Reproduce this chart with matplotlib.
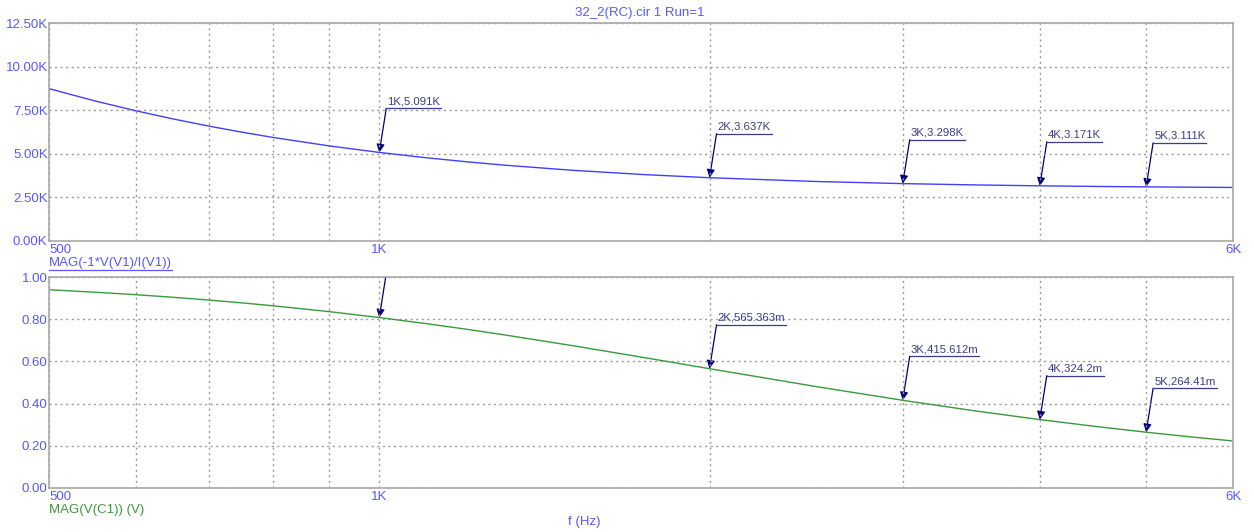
import matplotlib.pyplot as plt
from matplotlib.lines import Line2D
from matplotlib.patches import FancyArrowPatch

plt.rcParams['font.family'] = ['Liberation Sans', 'DejaVu Sans']

# sweep points (Hz)
freq = [500, 550, 600, 650, 700, 750, 800, 900, 1000, 1100, 1200, 1300,
        1500, 1750, 2000, 2500, 3000, 3500, 4000, 4500, 5000, 5500, 6000]
# |Z| = MAG(-1*V(V1)/I(V1)), kOhm
z_mag = [8.756, 8.057, 7.483, 7.003, 6.598, 6.251, 5.952, 5.467, 5.091,
         4.794, 4.555, 4.360, 4.064, 3.811, 3.637, 3.421, 3.298, 3.222,
         3.171, 3.136, 3.111, 3.092, 3.077]
# MAG(V(C1)), V
vc_mag = [0.9395, 0.9281, 0.9161, 0.9036, 0.8906, 0.8773, 0.8637, 0.8359,
          0.8080, 0.7800, 0.7526, 0.7257, 0.6747, 0.6167, 0.5654, 0.4809,
          0.4156, 0.3647, 0.3242, 0.2915, 0.2644, 0.2419, 0.2228]

# cursor tags
tag_f = [1000, 2000, 3000, 4000, 5000]
tag_z = [5.091, 3.637, 3.298, 3.171, 3.111]
tag_z_txt = ['1K,5.091K', '2K,3.637K', '3K,3.298K', '4K,3.171K', '5K,3.111K']
tag_vc = [0.808012, 0.565363, 0.415612, 0.3242, 0.26441]
tag_vc_txt = ['1K,808.012m', '2K,565.363m', '3K,415.612m', '4K,324.2m', '5K,264.41m']

grid_f = [500, 600, 700, 800, 900, 1000, 2000, 3000, 4000, 5000, 6000]
grid_lbl = {500: '500', 1000: '1K', 6000: '6K'}

W, H = 1254, 532
fig = plt.figure(figsize=(W / 100, H / 100), dpi=100)

def px_box(x0, y0, x1, y1):
    return [x0 / W, 1 - y1 / H, (x1 - x0) / W, (y1 - y0) / H]

ax1 = fig.add_axes(px_box(49, 23.5, 1233, 241))
ax2 = fig.add_axes(px_box(49, 277, 1233, 488))

tick_col = '#5858ff'
tag_col = '#00007a'
tag_txt_col = '#3c3c8c'

def style(ax, ymax, step, fmt):
    ax.set_xscale('log')
    ax.set_xlim(500, 6000)
    ax.set_ylim(0, ymax)
    ax.set_xticks(grid_f)
    ax.set_xticklabels([grid_lbl.get(f, '') for f in grid_f])
    ax.minorticks_off()
    yt = [i * step for i in range(int(round(ymax / step)) + 1)]
    ax.set_yticks(yt)
    ax.set_yticklabels([fmt(v) for v in yt])
    ax.tick_params(length=0, labelsize=9.5, colors=tick_col, pad=1)
    ax.tick_params(axis='x', pad=2)
    labels = ax.get_xticklabels()
    labels[0].set_horizontalalignment('left')
    ax.grid(True, color='#9a9a9a', linestyle=(0, (1.5, 2.5)), linewidth=1.0)
    for s in ax.spines.values():
        s.set_color('#a8a8a8')
        s.set_linewidth(1.2)

style(ax1, 12.5, 2.5, lambda v: f'{v:.2f}K')
style(ax2, 1.0, 0.2, lambda v: f'{v:.2f}')

ax1.plot(freq, z_mag, color='#4040ff', lw=1.0)
ax2.plot(freq, vc_mag, color='#3a9a3a', lw=1.0)

fig.canvas.draw()
renderer = fig.canvas.get_renderer()

def add_tags(ax, fs, vals, texts):
    inv = ax.transData.inverted()
    for f, v, t in zip(fs, vals, texts):
        px, py = ax.transData.transform((f, v))
        top = inv.transform((px + 7, py + 44))
        arr = FancyArrowPatch(top, (f, v), arrowstyle='-|>', mutation_scale=12,
                              color=tag_col, lw=0.9, shrinkA=0, shrinkB=0)
        ax.add_patch(arr)
        txt = ax.text(*inv.transform((px + 8, py + 46)), t, fontsize=8.2,
                      color=tag_txt_col, ha='left', va='bottom', clip_on=True)
        w = txt.get_window_extent(renderer).width
        end = inv.transform((px + 7 + w + 2, py + 44))
        ax.plot([top[0], end[0]], [top[1], end[1]], color=tag_txt_col, lw=0.9)

add_tags(ax1, tag_f, tag_z, tag_z_txt)
add_tags(ax2, tag_f, tag_vc, tag_vc_txt)

fig.text(640 / W, 1 - 13 / H, '32_2(RC).cir 1 Run=1', color=tick_col,
         fontsize=9.5, ha='center', va='center')
fig.text(584 / W, 1 - 522 / H, 'f (Hz)', color=tick_col,
         fontsize=9.5, ha='center', va='center')

t1 = fig.text(49 / W, 1 - 263 / H, 'MAG(-1*V(V1)/I(V1))', color=tick_col,
              fontsize=9.5, ha='left', va='center')
bb = t1.get_window_extent(renderer)
fig.add_artist(Line2D([bb.x0 / W, bb.x1 / W], [(bb.y0 - 1) / H] * 2,
                      color=tick_col, lw=0.9))
fig.text(49 / W, 1 - 510 / H, 'MAG(V(C1)) (V)', color='#3a9a3a',
         fontsize=9.5, ha='left', va='center')

fig.savefig('out.png', dpi=100)
